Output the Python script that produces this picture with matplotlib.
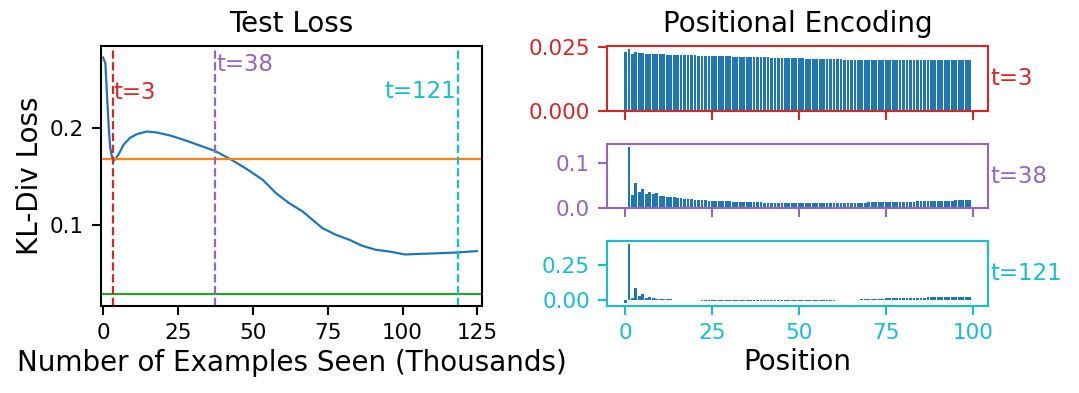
import matplotlib
matplotlib.use("Agg")
import matplotlib.pyplot as plt
import numpy as np

# ---- Test loss curve (thousands of examples, KL-div loss) ----
loss_x = [0, 0.76, 1.3, 1.9, 2.4, 3.2, 3.7, 5.1, 6.8, 9.0, 11.3, 14.6, 17.9, 22.4,
          27.9, 32.3, 37.3, 42.3, 47.8, 53.3, 57.7, 62.1, 66.6, 69.9, 73.2, 77.7,
          82.2, 86.5, 91.0, 95.4, 100.9, 106.5, 113.2, 118.5, 124.8]
loss_y = [0.273, 0.267, 0.2344, 0.200, 0.179, 0.167, 0.1665, 0.1724, 0.1827, 0.190,
          0.1938, 0.1965, 0.1955, 0.1924, 0.1869, 0.182, 0.1765, 0.1683, 0.158,
          0.1465, 0.1328, 0.1224, 0.1138, 0.1052, 0.0966, 0.0897, 0.0845, 0.0783,
          0.0742, 0.0724, 0.0693, 0.070, 0.0707, 0.0714, 0.0728]
orange_level = 0.168
green_level = 0.0283
marker_x = [3.2, 37.5, 118.6]
marker_labels = ["t=3", "t=38", "t=121"]

# ---- Positional encoding snapshots (positions 0..99) ----
positions = list(range(100))
pe_t3 = [0.0230, 0.0243, 0.0224, 0.0229, 0.0226, 0.0225, 0.0224, 0.0224, 0.0223, 0.0222,
         0.0221, 0.0221, 0.0220, 0.0220, 0.0219, 0.0219, 0.0218, 0.0218, 0.0217, 0.0217,
         0.0217, 0.0216, 0.0216, 0.0216, 0.0215, 0.0215, 0.0214, 0.0214, 0.0214, 0.0213,
         0.0213, 0.0212, 0.0212, 0.0212, 0.0211, 0.0211, 0.0210, 0.0210, 0.0210, 0.0209,
         0.0209, 0.0209, 0.0208, 0.0208, 0.0207, 0.0207, 0.0207, 0.0206, 0.0206, 0.0205,
         0.0205, 0.0205, 0.0204, 0.0204, 0.0204, 0.0203, 0.0203, 0.0203, 0.0203, 0.0202,
         0.0202, 0.0202, 0.0202, 0.0201, 0.0201, 0.0201, 0.0201, 0.0201, 0.0200, 0.0200,
         0.0200, 0.0200, 0.0200, 0.0200, 0.0200, 0.0200, 0.0199, 0.0199, 0.0199, 0.0199,
         0.0199, 0.0199, 0.0199, 0.0199, 0.0199, 0.0199, 0.0199, 0.0199, 0.0199, 0.0199,
         0.0199, 0.0199, 0.0198, 0.0198, 0.0198, 0.0198, 0.0198, 0.0198, 0.0198, 0.0198]
pe_t38 = [0.002, 0.136, 0.030, 0.056, 0.036, 0.042, 0.032, 0.036, 0.032, 0.033,
          0.028, 0.028, 0.026, 0.025, 0.024, 0.023, 0.022, 0.021, 0.0205, 0.020,
          0.019, 0.0185, 0.018, 0.0175, 0.017, 0.0167, 0.0163, 0.016, 0.0157, 0.0154,
          0.0151, 0.0148, 0.0145, 0.0142, 0.014, 0.0138, 0.0136, 0.0134, 0.0132, 0.013,
          0.0128, 0.0126, 0.0124, 0.0123, 0.0122, 0.0121, 0.012, 0.0119, 0.0118, 0.0117,
          0.0116, 0.0116, 0.0116, 0.0116, 0.0116, 0.0117, 0.0117, 0.0118, 0.0118, 0.0119,
          0.012, 0.012, 0.0121, 0.0122, 0.0123, 0.0124, 0.0125, 0.0126, 0.0127, 0.0128,
          0.0129, 0.013, 0.0131, 0.0132, 0.0133, 0.0134, 0.0136, 0.0138, 0.014, 0.0142,
          0.0144, 0.0146, 0.0148, 0.015, 0.0152, 0.0154, 0.0156, 0.0158, 0.016, 0.0162,
          0.0164, 0.0166, 0.0168, 0.017, 0.0172, 0.0174, 0.0176, 0.0178, 0.018, 0.0185]
pe_t121 = [-0.022, 0.406, 0.012, 0.085, 0.029, 0.041, 0.017, 0.022, 0.012, 0.010,
           0.008, 0.006, 0.005, 0.004, 0.003, 0.0025, 0.002, -0.002, -0.002, -0.003,
           -0.003, -0.003, -0.004, -0.004, -0.004, -0.004, -0.005, -0.005, -0.005, -0.005,
           -0.005, -0.005, -0.005, -0.005, -0.005, -0.005, -0.005, -0.005, -0.005, -0.005,
           -0.005, -0.005, -0.005, -0.005, -0.005, -0.005, -0.005, -0.005, -0.005, -0.005,
           -0.005, -0.005, -0.005, -0.005, -0.005, -0.005, -0.005, -0.005, -0.004, -0.004,
           -0.004, -0.003, -0.003, -0.002, 0.002, 0.002, 0.003, 0.003, 0.004, 0.005,
           0.006, 0.007, 0.008, 0.009, 0.010, 0.011, 0.012, 0.013, 0.014, 0.015,
           0.015, 0.016, 0.016, 0.017, 0.017, 0.018, 0.018, 0.019, 0.019, 0.019,
           0.020, 0.020, 0.020, 0.021, 0.021, 0.021, 0.021, 0.022, 0.022, 0.022]

pe_series = [pe_t3, pe_t38, pe_t121]
pe_colors = ["tab:red", "tab:purple", "tab:cyan"]
pe_yticks = [[0.0, 0.025], [0.0, 0.1], [0.0, 0.25]]
pe_fmt = ["%.3f", "%.1f", "%.2f"]
x_ticks_left = [0, 25, 50, 75, 100, 125]
x_ticks_right = [0, 25, 50, 75, 100]

TICK = 15.5
LABEL = 20
TLEN = 6.5
TPAD = 6
plt.rcParams["font.family"] = ["DejaVu Sans"]
plt.rcParams["axes.linewidth"] = 1.5

fig = plt.figure(figsize=(10.79, 3.93), dpi=100)

# ---- left panel ----
ax = fig.add_axes([0.0936, 0.2214, 0.3531, 0.6616])
ax.plot(loss_x, loss_y, color="tab:blue", lw=1.6)
ax.axhline(orange_level, color="tab:orange", lw=1.6)
ax.axhline(green_level, color="tab:green", lw=1.6)
for xv, c in zip(marker_x, pe_colors):
    ax.axvline(xv, color=c, ls="--", lw=1.6)
ax.text(marker_x[0] + 0.4, 0.237, marker_labels[0], color=pe_colors[0],
        fontsize=16.5, ha="left", va="center")
ax.text(marker_x[1] + 0.4, 0.266, marker_labels[1], color=pe_colors[1],
        fontsize=16.5, ha="left", va="center")
ax.text(marker_x[2] - 0.6, 0.2375, marker_labels[2], color=pe_colors[2],
        fontsize=16.5, ha="right", va="center")
ax.set_xlim(-0.7, 126.5)
ax.set_ylim(0.016, 0.285)
ax.set_xticks(x_ticks_left)
ax.set_yticks([0.1, 0.2])
ax.set_yticklabels(["0.1", "0.2"])
ax.tick_params(labelsize=TICK, width=1.5, length=TLEN, pad=TPAD)
ax.set_title("Test Loss", fontsize=LABEL, pad=10)
ax.set_xlabel("Number of Examples Seen (Thousands)", fontsize=LABEL, labelpad=4)
ax.set_ylabel("KL-Div Loss", fontsize=LABEL, labelpad=4)

# ---- right panels ----
rects = [[0.5623, 0.7183, 0.3537, 0.1654],
         [0.5623, 0.4700, 0.3537, 0.1636],
         [0.5623, 0.2214, 0.3537, 0.1654]]
axes_r = []
for i, (vals, c, yt, fmt, r) in enumerate(zip(pe_series, pe_colors, pe_yticks, pe_fmt, rects)):
    a = fig.add_axes(r)
    a.bar(positions, vals, color="tab:blue")
    a.set_yticks(yt)
    a.set_yticklabels([fmt % v for v in yt])
    a.set_xticks(x_ticks_right)
    for s in a.spines.values():
        s.set_color(c)
        s.set_linewidth(1.5)
    a.tick_params(colors=c, labelcolor=c, labelsize=TICK, width=1.5,
                  length=TLEN, pad=5.5)
    a.text(1.005, 0.5, marker_labels[i], transform=a.transAxes, color=c,
           fontsize=16.5, ha="left", va="center")
    if i < 2:
        a.tick_params(labelbottom=False)
    axes_r.append(a)

axes_r[0].set_title("Positional Encoding", fontsize=LABEL, pad=10)
axes_r[2].set_xlabel("Position", fontsize=LABEL, labelpad=4)

fig.savefig("out.png", dpi=100)
